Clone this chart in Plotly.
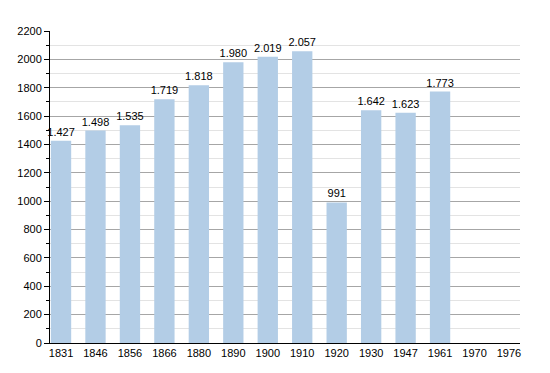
import plotly.graph_objects as go

years = ["1831", "1846", "1856", "1866", "1880", "1890", "1900", "1910", "1920", "1930", "1947", "1961", "1970", "1976"]
population = [1427, 1498, 1535, 1719, 1818, 1980, 2019, 2057, 991, 1642, 1623, 1773, None, None]
y_ticks = list(range(0, 2201, 200))

labels = ["" if v is None else f"{v:,}".replace(",", ".") for v in population]

fig = go.Figure(go.Bar(
    x=years, y=population, text=labels, textposition="outside",
    textfont=dict(size=11, color="black", family="Liberation Sans, Arial"),
    constraintext="none",
    marker=dict(color="#b3cde6", line=dict(width=0)),
    width=0.59, cliponaxis=False,
))

fig.update_layout(
    width=550, height=373,
    margin=dict(l=42, r=38, t=23, b=38, autoexpand=False),
    plot_bgcolor="white", paper_bgcolor="white",
    font=dict(family="Liberation Sans, Arial", size=11, color="black"),
    showlegend=False,
    xaxis=dict(
        type="category", range=[-0.32, 13.32], automargin=False,
        showline=True, linecolor="black", linewidth=1,
        ticks="", tickfont=dict(size=11), showgrid=False,
    ),
    yaxis=dict(
        range=[0, 2200], tickvals=y_ticks, automargin=False,
        showline=True, linecolor="black", linewidth=1,
        ticks="outside", ticklen=5, tickcolor="black",
        gridcolor="#a6a6a6", gridwidth=1,
        tickfont=dict(size=11), zeroline=False,
        minor=dict(dtick=100, showgrid=True, gridcolor="#e3e3e3",
                   ticks="outside", ticklen=3, tickcolor="black"),
    ),
)

fig.write_html("out.html")
